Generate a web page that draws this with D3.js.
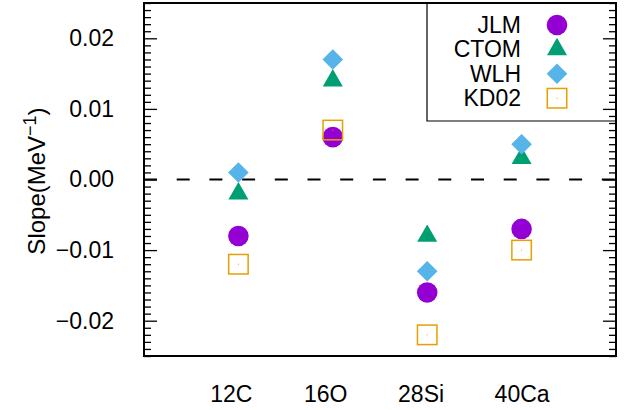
<!DOCTYPE html>
<html>
<head>
<meta charset="utf-8">
<script src="https://cdn.jsdelivr.net/npm/d3@7"></script>
<style>
  html, body { margin: 0; padding: 0; background: #fff; }
  svg { display: block; }
  text { font-family: "Liberation Sans", Arial, Helvetica, sans-serif; fill: #000; }
</style>
</head>
<body>
<svg id="chart" width="635" height="410"></svg>
<script>
// Nuclei and their positions on the x axis
const nuclei = ["12C", "16O", "28Si", "40Ca"];
const nucleusX = [1, 2, 3, 4];
// Positions where the nucleus names are written under the plot
const nucleusLabelX = [0.92, 1.92, 2.93, 4.0];

// Slope values (MeV^-1) for each optical potential
const jlm  = [-0.008, 0.006, -0.016, -0.007];
const ctom = [-0.002, 0.014, -0.008, 0.003];
const wlh  = [0.001, 0.017, -0.013, 0.005];
const kd02 = [-0.012, 0.007, -0.022, -0.010];

const seriesNames = ["JLM", "CTOM", "WLH", "KD02"];
const seriesColors = ["#9400d3", "#009e73", "#56b4e9", "#e69f00"];
const seriesShapes = ["circle", "triangle", "diamond", "square"];

// y-axis ticks
const yMajorTicks = [-0.02, -0.01, 0.00, 0.01, 0.02];
const yDomain = [-0.025, 0.025];
const xDomain = [0, 5];

const svg = d3.select("#chart");
const plot = { left: 144, right: 616, top: 3, bottom: 356 };
const fontSize = 23;

const x = d3.scaleLinear().domain(xDomain).range([plot.left, plot.right]);
const y = d3.scaleLinear().domain(yDomain).range([plot.bottom, plot.top]);

// Zero reference line (dashed)
svg.append("line")
  .attr("x1", x(xDomain[0])).attr("x2", x(xDomain[1]))
  .attr("y1", y(0)).attr("y2", y(0))
  .attr("stroke", "#000").attr("stroke-width", 2)
  .attr("stroke-dasharray", "13,19.7");

// Minor ticks every 0.001
const minorTicks = d3.range(-25, 26).map(k => k / 1000)
  .filter(v => Math.abs(Math.round(v * 100) - v * 100) > 1e-6);

// Left axis: major ticks with labels, ticks pointing inward
const leftAxis = d3.axisLeft(y)
  .tickValues(yMajorTicks)
  .tickFormat(d3.format(".2f"))
  .tickSizeInner(-13).tickSizeOuter(0).tickPadding(30);
const gL = svg.append("g").attr("transform", `translate(${plot.left},0)`).call(leftAxis);
gL.select(".domain").remove();
gL.selectAll(".tick line").attr("stroke", "#000").attr("stroke-width", 1.3);
gL.selectAll(".tick text").style("font-size", fontSize + "px")
  .style("font-family", '"Liberation Sans", Arial, sans-serif').attr("fill", "#000");

const leftMinor = d3.axisLeft(y).tickValues(minorTicks).tickFormat("")
  .tickSizeInner(-7).tickSizeOuter(0);
const gLm = svg.append("g").attr("transform", `translate(${plot.left},0)`).call(leftMinor);
gLm.select(".domain").remove();
gLm.selectAll(".tick line").attr("stroke", "#000").attr("stroke-width", 1.3);

// Right axis: mirrored ticks, no labels
const rightAxis = d3.axisRight(y).tickValues(yMajorTicks).tickFormat("")
  .tickSizeInner(-13).tickSizeOuter(0);
const gR = svg.append("g").attr("transform", `translate(${plot.right},0)`).call(rightAxis);
gR.select(".domain").remove();
gR.selectAll(".tick line").attr("stroke", "#000").attr("stroke-width", 1.3);

const rightMinor = d3.axisRight(y).tickValues(minorTicks).tickFormat("")
  .tickSizeInner(-7).tickSizeOuter(0);
const gRm = svg.append("g").attr("transform", `translate(${plot.right},0)`).call(rightMinor);
gRm.select(".domain").remove();
gRm.selectAll(".tick line").attr("stroke", "#000").attr("stroke-width", 1.3);

// Bottom axis: nucleus names only
const bottomAxis = d3.axisBottom(x)
  .tickValues(nucleusLabelX)
  .tickFormat((d, i) => nuclei[i])
  .tickSize(0).tickPadding(30);
const gB = svg.append("g").attr("transform", `translate(0,${plot.bottom})`).call(bottomAxis);
gB.select(".domain").remove();
gB.selectAll(".tick text").style("font-size", fontSize + "px")
  .style("font-family", '"Liberation Sans", Arial, sans-serif').attr("fill", "#000");

// Y axis title
const yTitle = svg.append("text")
  .attr("transform", `translate(45,181) rotate(-90)`)
  .attr("text-anchor", "middle")
  .style("font-size", "24px");
yTitle.append("tspan").text("Slope(MeV");
yTitle.append("tspan").attr("dy", -9).style("font-size", "18px").text("−1");
yTitle.append("tspan").attr("dy", 9).text(")");

// Marker symbols
function drawMarker(g, shape, color, cx, cy) {
  if (shape === "circle") {
    g.append("circle").attr("cx", cx).attr("cy", cy).attr("r", 10.3).attr("fill", color);
  } else if (shape === "triangle") {
    const s = 20, h = s * Math.sqrt(3) / 2;
    const pts = [[cx, cy - 2 * h / 3], [cx - s / 2, cy + h / 3], [cx + s / 2, cy + h / 3]];
    g.append("polygon").attr("points", pts.map(p => p.join(",")).join(" ")).attr("fill", color);
  } else if (shape === "diamond") {
    const r = 10.3;
    const pts = [[cx, cy - r], [cx + r, cy], [cx, cy + r], [cx - r, cy]];
    g.append("polygon").attr("points", pts.map(p => p.join(",")).join(" ")).attr("fill", color);
  } else if (shape === "square") {
    const a = 19.5;
    g.append("rect").attr("x", cx - a / 2).attr("y", cy - a / 2)
      .attr("width", a).attr("height", a)
      .attr("fill", "none").attr("stroke", color).attr("stroke-width", 1.5);
    g.append("rect").attr("x", cx - 0.5).attr("y", cy - 0.5)
      .attr("width", 1).attr("height", 1).attr("fill", color);
  }
}

const allSeries = [jlm, ctom, wlh, kd02];
const marks = svg.append("g");
allSeries.forEach((vals, si) => {
  const g = marks.append("g").attr("class", "series-" + seriesNames[si]);
  vals.forEach((v, i) => {
    drawMarker(g, seriesShapes[si], seriesColors[si], x(nucleusX[i]), y(v));
  });
});

// Legend box in the upper right corner
const legend = { left: 427, bottom: 121, textRight: 521, markerX: 557, firstRow: 25, rowStep: 24.4 };
svg.append("path")
  .attr("d", `M${legend.left},${plot.top} V${legend.bottom} H${plot.right}`)
  .attr("fill", "none").attr("stroke", "#000").attr("stroke-width", 1.2);
seriesNames.forEach((name, i) => {
  const cy = legend.firstRow + i * legend.rowStep;
  svg.append("text")
    .attr("x", legend.textRight).attr("y", cy)
    .attr("dy", "0.35em")
    .attr("text-anchor", "end")
    .style("font-size", fontSize + "px")
    .text(name);
  drawMarker(svg, seriesShapes[i], seriesColors[i], legend.markerX, cy);
});

// Plot frame
svg.append("rect")
  .attr("x", plot.left).attr("y", plot.top)
  .attr("width", plot.right - plot.left).attr("height", plot.bottom - plot.top)
  .attr("fill", "none").attr("stroke", "#000").attr("stroke-width", 2);
</script>
</body>
</html>
